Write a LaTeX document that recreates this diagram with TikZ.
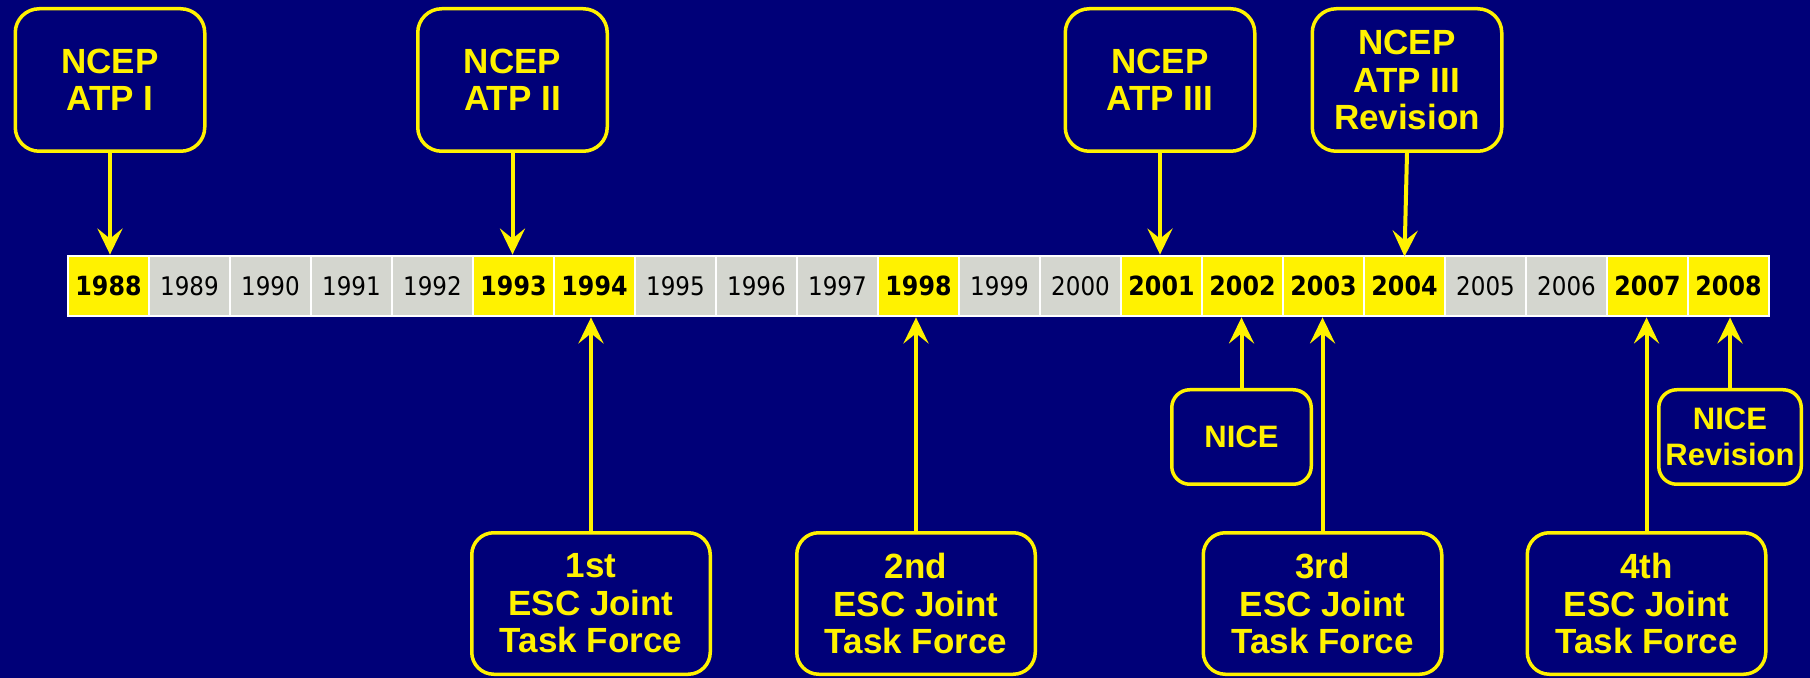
\documentclass[tikz,border=0pt]{standalone}
\usepackage{fontspec}
\setmainfont{Liberation Sans}
\newfontfamily\yearfont[FakeStretch=0.9]{DejaVu Sans}
\usepackage{tikz}
\usetikzlibrary{arrows.meta}
\definecolor{navy}{RGB}{0,0,120}
\definecolor{cellgray}{RGB}{212,214,207}
\tikzset{>={Stealth[length=13pt,width=12.5pt,inset=5pt]}}

\begin{document}
\begin{tikzpicture}[x=0.5pt, y=-0.5pt]
\tikzset{yearon/.style={fill=yellow, minimum width=39.5pt, minimum height=29pt, inner sep=0pt, font=\yearfont\fontsize{13.2}{15}\selectfont\bfseries},
         yearoff/.style={fill=cellgray, minimum width=39.5pt, minimum height=29pt, inner sep=0pt, font=\yearfont\fontsize{12.8}{15}\selectfont},
         event/.style={draw=yellow, line width=1.75pt, fill=navy, text=yellow, align=center, inner sep=0pt, font=\fontsize{17.5}{18.75}\selectfont\bfseries},
         atpbox/.style={event, rounded corners=12pt, minimum width=94.75pt, minimum height=71.25pt},
         escbox/.style={event, rounded corners=11pt, minimum width=119.25pt, minimum height=70.75pt},
         nicebox/.style={event, rounded corners=9pt, minimum height=47.25pt, font=\fontsize{15.5}{18}\selectfont\bfseries},
         link/.style={draw=yellow, line width=2pt, ->}}
    \fill[navy] (0,0) rectangle (1810,678);
    \useasboundingbox (0,0) rectangle (1810,678);

    % the years
    \node[fill=white, minimum width=851.5pt, minimum height=31pt, inner sep=0pt] (strip) at (918.5,286) {};
    \node[yearon]  (y1988) at (108.5,286) {1988};
    \node[yearoff] (y1989) at (189.5,286) {1989};
    \node[yearoff] (y1990) at (270.5,286) {1990};
    \node[yearoff] (y1991) at (351.5,286) {1991};
    \node[yearoff] (y1992) at (432.5,286) {1992};
    \node[yearon]  (y1993) at (513.5,286) {1993};
    \node[yearon]  (y1994) at (594.5,286) {1994};
    \node[yearoff] (y1995) at (675.5,286) {1995};
    \node[yearoff] (y1996) at (756.5,286) {1996};
    \node[yearoff] (y1997) at (837.5,286) {1997};
    \node[yearon]  (y1998) at (918.5,286) {1998};
    \node[yearoff] (y1999) at (999.5,286) {1999};
    \node[yearoff] (y2000) at (1080.5,286) {2000};
    \node[yearon]  (y2001) at (1161.5,286) {2001};
    \node[yearon]  (y2002) at (1242.5,286) {2002};
    \node[yearon]  (y2003) at (1323.5,286) {2003};
    \node[yearon]  (y2004) at (1404.5,286) {2004};
    \node[yearoff] (y2005) at (1485.5,286) {2005};
    \node[yearoff] (y2006) at (1566.5,286) {2006};
    \node[yearon]  (y2007) at (1647.5,286) {2007};
    \node[yearon]  (y2008) at (1728.5,286) {2008};

    % above the strip
    \node[atpbox] (atpI)      at (110,80)    {NCEP\\ATP I};
    \node[atpbox] (atpII)     at (512.5,80)  {NCEP\\ATP II};
    \node[atpbox] (atpIII)    at (1160,80)   {NCEP\\ATP III};
    \node[atpbox] (atpIIIrev) at (1407,80)   {NCEP\\ATP III\\Revision};

    \draw[link] (atpI.south) -- (atpI.south |- strip.north);
    \draw[link] (atpII.south) -- (atpII.south |- strip.north);
    \draw[link] (atpIII.south) -- (atpIII.south |- strip.north);
    \draw[link] (atpIIIrev.south) -- (y2004.north);

    % below the strip
    \node[nicebox, minimum width=69.75pt] (nice)    at (1241.5,437) {NICE};
    \node[nicebox, minimum width=71.25pt] (nicerev) at (1730,437)   {NICE\\Revision};
    \node[escbox] (esc1) at (591,603.5)    {1st\\ESC Joint\\Task Force};
    \node[escbox] (esc2) at (916,603.5)    {2nd\\ESC Joint\\Task Force};
    \node[escbox] (esc3) at (1322.5,603.5) {3rd\\ESC Joint\\Task Force};
    \node[escbox] (esc4) at (1646.5,603.5) {4th\\ESC Joint\\Task Force};

    \draw[link] (esc1.north) -- (esc1.north |- strip.south);
    \draw[link] (esc2.north) -- (esc2.north |- strip.south);
    \draw[link] (esc3.north) -- (esc3.north |- strip.south);
    \draw[link] (esc4.north) -- (esc4.north |- strip.south);
    \draw[link] (nice.north) -- (nice.north |- strip.south);
    \draw[link] (nicerev.north) -- (nicerev.north |- strip.south);
\end{tikzpicture}
\end{document}
